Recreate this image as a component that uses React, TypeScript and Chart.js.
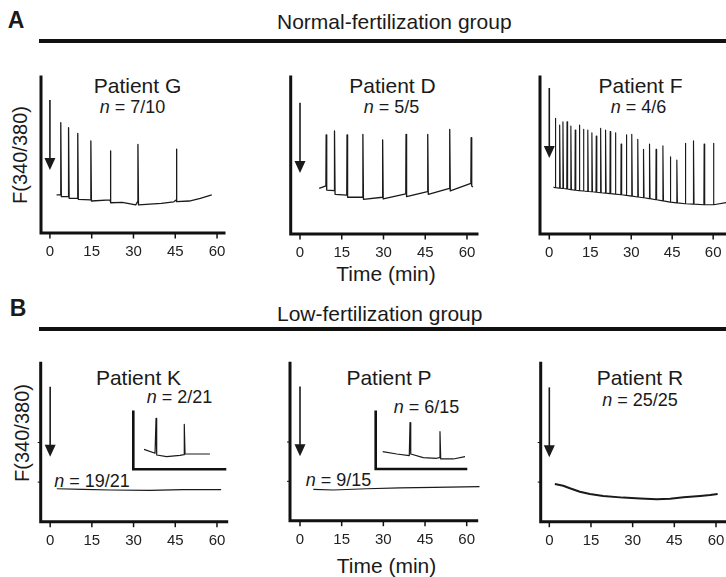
import React, { useEffect, useRef } from "react";
import { Chart, registerables } from "chart.js";

Chart.register(...registerables);

const W = 726;
const H = 577;
const FONT = '"Liberation Sans", Arial, Helvetica, sans-serif';
const INK = "#1a1a1a";

// ---------- shared tick values ----------
const timeTicks = [0, 15, 30, 45, 60];
const lowRowYTicks = [0.25, 0.5];

// ---------- Patient G (normal) ----------
const gStart = [2.4, 0.244];
const gEnd = [58.1, 0.244];
const gSpikeT = [3.8, 6.6, 9.9, 14.6, 21.6, 31.5, 45.3];
const gSpikePeak = [0.707, 0.675, 0.639, 0.59, 0.526, 0.568, 0.538];
const gSpikeFoot = [0.244, 0.233, 0.222, 0.212, 0.212, 0.201, 0.212];
const gSpikeAfter = [0.233, 0.222, 0.216, 0.205, 0.194, 0.18, 0.201];
const gBaseT = [26.0, 30.8, 40.0, 44.5, 50.0, 54.0];
const gBaseV = [0.196, 0.18, 0.19, 0.2, 0.205, 0.222];
const gArrow = [0.853, 0.404];

// ---------- Patient D (normal) ----------
const dStart = [6.9, 0.291];
const dEnd = [62.1, 0.3];
const dSpikeT = [9.3, 12.3, 16.8, 22.5, 29.6, 38.0, 45.8, 53.7, 61.4];
const dSpikePeak = [0.631, 0.656, 0.631, 0.635, 0.599, 0.635, 0.635, 0.667, 0.613];
const dSpikeFoot = [0.306, 0.276, 0.248, 0.234, 0.234, 0.255, 0.27, 0.291, 0.323];
const dSpikeAfter = [0.28, 0.253, 0.234, 0.221, 0.223, 0.238, 0.253, 0.274, 0.306];
const dArrow = [0.836, 0.389];

// ---------- Patient F (normal) ----------
const fStart = [1.5, 0.3];
const fEnd = [64.7, 0.2];
const fSpikeT = [
  2.1, 3.7, 4.9, 6.4, 7.8, 9.4, 10.9, 12.4, 14.0, 15.5, 17.1, 18.7, 20.5, 22.2, 24.1,
  26.2, 28.1, 30.1, 32.3, 34.4, 36.6, 39.0, 41.5, 44.2, 46.6, 49.7, 52.7, 56.6, 60.0,
];
const fSpikePeak = [
  0.737, 0.694, 0.715, 0.715, 0.688, 0.662, 0.694, 0.667, 0.662, 0.645, 0.624, 0.673, 0.662,
  0.652, 0.645, 0.573, 0.631, 0.635, 0.603, 0.539, 0.573, 0.539, 0.561, 0.492, 0.471, 0.578,
  0.594, 0.573, 0.578,
];
const fSpikeFoot = [
  0.295, 0.292, 0.29, 0.287, 0.283, 0.279, 0.276, 0.274, 0.271, 0.269, 0.266, 0.263, 0.26,
  0.257, 0.254, 0.25, 0.246, 0.241, 0.236, 0.231, 0.225, 0.218, 0.211, 0.203, 0.198, 0.193,
  0.19, 0.186, 0.186,
];
const fArrow = [0.93, 0.484];

// ---------- Patient K (low) ----------
const kTime = [2.4, 11.9, 21.5, 35.8, 47.8, 61.5];
const kValue = [0.208, 0.204, 0.2, 0.198, 0.202, 0.202];
const kInsetX = [11.7, 23.7, 24.8, 25.5, 36.4, 50.9, 55.3, 55.6, 56.4, 72.7, 83.6];
const kInsetY = [0.347, 0.278, 0.885, 0.248, 0.219, 0.243, 0.254, 0.781, 0.266, 0.266, 0.266];
const kArrow = [0.852, 0.41];

// ---------- Patient P (low) ----------
const pTime = [4.8, 12, 24, 36, 48, 64.6];
const pValue = [0.199, 0.195, 0.203, 0.208, 0.212, 0.216];
const pInsetX = [7.8, 23.3, 37.2, 38.0, 38.8, 52.7, 67.5, 70.4, 71.2, 72.0, 85.9, 98.9];
const pInsetY = [0.302, 0.262, 0.232, 0.808, 0.262, 0.198, 0.187, 0.198, 0.651, 0.175, 0.175, 0.215];
const pArrow = [0.852, 0.41];

// ---------- Patient R (low) ----------
const rTime = [2.0, 5.0, 7.4, 11.0, 14.6, 19.4, 26.6, 32.7, 38.7, 43.5, 48.3, 54.3, 57.9, 60.6];
const rValue = [0.238, 0.227, 0.211, 0.189, 0.175, 0.162, 0.152, 0.147, 0.141, 0.145, 0.154, 0.162, 0.168, 0.175];
const rArrow = [0.848, 0.407];

type Pt = { x: number; y: number };

function zipXY(xs: number[], ys: number[]): Pt[] {
  return xs.map((x, i) => ({ x, y: ys[i] }));
}

function spikeTrace(
  start: number[],
  end: number[],
  t: number[],
  peak: number[],
  foot: number[],
  after: number[],
  extraT: number[] = [],
  extraV: number[] = []
): Pt[] {
  const pts: Pt[] = [{ x: start[0], y: start[1] }];
  t.forEach((ti, i) => {
    pts.push({ x: ti, y: foot[i] }, { x: ti + 0.1, y: peak[i] }, { x: ti + 0.3, y: after[i] });
  });
  extraT.forEach((ti, i) => pts.push({ x: ti, y: extraV[i] }));
  pts.push({ x: end[0], y: end[1] });
  return pts.sort((a, b) => a.x - b.x);
}

const axesPlugin = {
  id: "panelAxes",
  beforeDatasetsDraw(chart: any, _args: any, o: any) {
    const { ctx, chartArea: a, scales } = chart;
    const xs = scales.x;
    const ys = scales.y;
    ctx.save();
    ctx.strokeStyle = "#111";
    ctx.lineJoin = "miter";
    ctx.lineCap = "square";
    ctx.lineWidth = o.axisWidth;
    ctx.beginPath();
    ctx.moveTo(a.left, a.top);
    ctx.lineTo(a.left, a.bottom);
    ctx.lineTo(a.right, a.bottom);
    ctx.stroke();
    ctx.lineCap = "butt";
    if (o.xTicks) {
      ctx.lineWidth = 1.5;
      o.xTicks.forEach((v: number) => {
        const x = xs.getPixelForValue(v);
        ctx.beginPath();
        ctx.moveTo(x, a.bottom);
        ctx.lineTo(x, a.bottom + 5.5);
        ctx.stroke();
      });
      ctx.fillStyle = "#222";
      ctx.font = `15px ${FONT}`;
      ctx.textAlign = "center";
      ctx.textBaseline = "middle";
      o.xTicks.forEach((v: number) => {
        ctx.fillText(String(v), xs.getPixelForValue(v), a.bottom + 19);
      });
    }
    if (o.yTicks) {
      ctx.lineWidth = 1;
      o.yTicks.forEach((v: number) => {
        const y = ys.getPixelForValue(v);
        ctx.beginPath();
        ctx.moveTo(a.left, y);
        ctx.lineTo(a.left - 3, y);
        ctx.stroke();
      });
    }
    ctx.restore();
  },
  afterDatasetsDraw(chart: any, _args: any, o: any) {
    if (!o.arrow) return;
    const { ctx, scales } = chart;
    const x = scales.x.getPixelForValue(0);
    const y1 = scales.y.getPixelForValue(o.arrow[0]);
    const y2 = scales.y.getPixelForValue(o.arrow[1]);
    ctx.save();
    ctx.strokeStyle = INK;
    ctx.fillStyle = INK;
    ctx.lineWidth = 1.6;
    ctx.beginPath();
    ctx.moveTo(x, y1);
    ctx.lineTo(x, y2 - 10);
    ctx.stroke();
    ctx.beginPath();
    ctx.moveTo(x - 5.5, y2 - 12);
    ctx.lineTo(x + 5.5, y2 - 12);
    ctx.lineTo(x, y2);
    ctx.closePath();
    ctx.fill();
    ctx.restore();
  },
};

type PanelCfg = {
  box: [number, number, number, number];
  xMin: number;
  xMax: number;
  data: Pt[];
  lineWidth: number;
  axisWidth: number;
  xTicks?: number[];
  yTicks?: number[];
  arrow?: number[];
};

const panels: PanelCfg[] = [
  {
    box: [41, 77, 224, 233], xMin: -3.2, xMax: 62.5,
    data: spikeTrace(gStart, gEnd, gSpikeT, gSpikePeak, gSpikeFoot, gSpikeAfter, gBaseT, gBaseV),
    lineWidth: 1.3, axisWidth: 3, xTicks: timeTicks, arrow: gArrow,
  },
  {
    box: [290.7, 77, 477, 234], xMin: -3.34, xMax: 63.6,
    data: spikeTrace(dStart, dEnd, dSpikeT, dSpikePeak, dSpikeFoot, dSpikeAfter),
    lineWidth: 1.3, axisWidth: 3, xTicks: timeTicks, arrow: dArrow,
  },
  {
    box: [540, 77, 726, 234], xMin: -3.4, xMax: 64.7,
    data: spikeTrace(fStart, fEnd, fSpikeT, fSpikePeak, fSpikeFoot, fSpikeFoot),
    lineWidth: 1.15, axisWidth: 3, xTicks: timeTicks, arrow: fArrow,
  },
  {
    box: [40.7, 363.3, 226.7, 521.7], xMin: -3.4, xMax: 63.5,
    data: zipXY(kTime, kValue), lineWidth: 1.2, axisWidth: 3,
    xTicks: timeTicks, yTicks: lowRowYTicks, arrow: kArrow,
  },
  {
    box: [133.3, 411.7, 225, 469.3], xMin: 0, xMax: 100,
    data: zipXY(kInsetX, kInsetY), lineWidth: 1.2, axisWidth: 2.6,
  },
  {
    box: [290, 363.3, 476.7, 520.7], xMin: -3.6, xMax: 63.6,
    data: zipXY(pTime, pValue), lineWidth: 1.2, axisWidth: 3,
    xTicks: timeTicks, yTicks: lowRowYTicks, arrow: pArrow,
  },
  {
    box: [375.7, 411.7, 466, 469], xMin: 0, xMax: 100,
    data: zipXY(pInsetX, pInsetY), lineWidth: 1.2, axisWidth: 2.6,
  },
  {
    box: [540.7, 363.3, 726, 521.7], xMin: -3.1, xMax: 63.6,
    data: zipXY(rTime, rValue), lineWidth: 2, axisWidth: 3,
    xTicks: timeTicks, yTicks: lowRowYTicks, arrow: rArrow,
  },
];

function Panel({ cfg }: { cfg: PanelCfg }) {
  const ref = useRef<HTMLCanvasElement>(null);
  useEffect(() => {
    const [l, t, r, b] = cfg.box;
    const chart = new Chart(ref.current as HTMLCanvasElement, {
      type: "line",
      data: {
        datasets: [
          {
            data: cfg.data as any,
            borderColor: INK,
            borderWidth: cfg.lineWidth,
            borderJoinStyle: "round",
            pointRadius: 0,
            tension: 0,
            fill: false,
            clip: false as any,
          },
        ],
      },
      options: {
        animation: false,
        responsive: false,
        maintainAspectRatio: false,
        events: [],
        layout: { padding: { left: l, top: t, right: W - r, bottom: H - b } },
        scales: {
          x: { type: "linear", min: cfg.xMin, max: cfg.xMax, display: false },
          y: { type: "linear", min: 0, max: 1, display: false },
        },
        plugins: {
          legend: { display: false },
          tooltip: { enabled: false },
          panelAxes: {
            axisWidth: cfg.axisWidth,
            xTicks: cfg.xTicks,
            yTicks: cfg.yTicks,
            arrow: cfg.arrow,
          },
        } as any,
      },
      plugins: [axesPlugin as any],
    });
    return () => chart.destroy();
  }, [cfg]);
  return (
    <canvas
      ref={ref}
      width={W}
      height={H}
      style={{ position: "absolute", left: 0, top: 0, width: W, height: H }}
    />
  );
}

function Txt(props: {
  x: number;
  y: number;
  size: number;
  children: React.ReactNode;
  bold?: boolean;
  left?: boolean;
  rotate?: boolean;
}) {
  const { x, y, size, children, bold, left, rotate } = props;
  const tr = left ? "translate(0,-50%)" : "translate(-50%,-50%)" + (rotate ? " rotate(-90deg)" : "");
  return (
    <div
      style={{
        position: "absolute",
        left: x,
        top: y,
        transform: tr,
        whiteSpace: "nowrap",
        fontFamily: FONT,
        fontSize: size,
        fontWeight: bold ? 700 : 400,
        lineHeight: 1,
        color: INK,
      }}
    >
      {children}
    </div>
  );
}

function Rule({ top }: { top: number }) {
  return (
    <div style={{ position: "absolute", left: 39, top, width: W - 39, height: 4, background: "#111" }} />
  );
}

export default function App() {
  return (
    <div style={{ position: "absolute", left: 0, top: 0, width: W, height: H, background: "#fff", overflow: "hidden" }}>
      <Txt x={16} y={19.5} size={23} bold>A</Txt>
      <Txt x={277} y={20.5} size={21} left>Normal-fertilization group</Txt>
      <Rule top={38.5} />
      <Txt x={18} y={307.5} size={23} bold>B</Txt>
      <Txt x={277} y={312.5} size={21} left>Low-fertilization group</Txt>
      <Rule top={327} />

      <Txt x={20} y={155} size={20} rotate>F(340/380)</Txt>
      <Txt x={22} y={433} size={20} rotate>F(340/380)</Txt>

      <Txt x={137.5} y={84.5} size={21}>Patient G</Txt>
      <Txt x={132.5} y={107} size={18}><i>n</i> = 7/10</Txt>
      <Txt x={392.5} y={84.5} size={21}>Patient D</Txt>
      <Txt x={391.5} y={107} size={18}><i>n</i> = 5/5</Txt>
      <Txt x={640.5} y={84.5} size={21}>Patient F</Txt>
      <Txt x={638.5} y={107} size={18}><i>n</i> = 4/6</Txt>
      <Txt x={386} y={273} size={21}>Time (min)</Txt>

      <Txt x={138.5} y={376.5} size={21}>Patient K</Txt>
      <Txt x={179.5} y={397} size={18}><i>n</i> = 2/21</Txt>
      <Txt x={92} y={481} size={18}><i>n</i> = 19/21</Txt>
      <Txt x={389} y={376.5} size={21}>Patient P</Txt>
      <Txt x={426.5} y={407} size={18}><i>n</i> = 6/15</Txt>
      <Txt x={338.5} y={480} size={18}><i>n</i> = 9/15</Txt>
      <Txt x={640} y={376.5} size={21}>Patient R</Txt>
      <Txt x={640} y={399.5} size={18}><i>n</i> = 25/25</Txt>
      <Txt x={386.5} y={565} size={21}>Time (min)</Txt>

      {panels.map((p, i) => (
        <Panel key={i} cfg={p} />
      ))}
    </div>
  );
}
